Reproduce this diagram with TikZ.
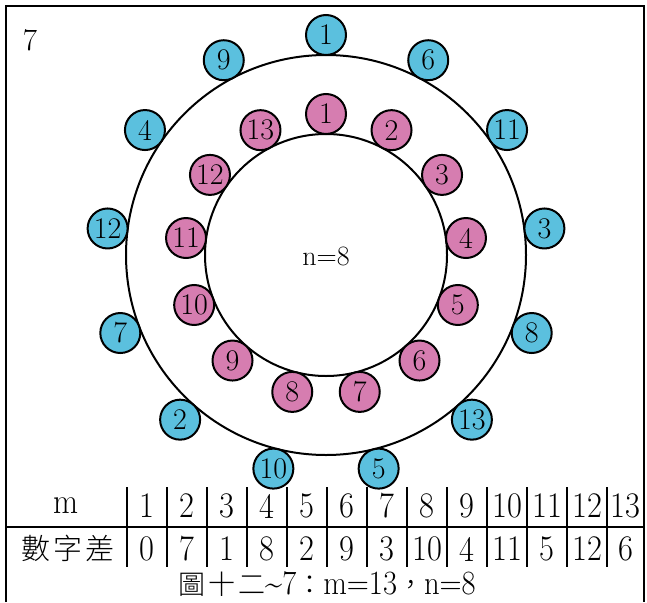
\documentclass[tikz,border=0pt]{standalone}
\usepackage{fontspec}
\IfFontExistsTF{Noto Sans CJK TC Light}
  {\newfontfamily\cjk{Noto Sans CJK TC Light}}
  {\newfontfamily\cjk{Noto Sans CJK TC}}
\definecolor{ballblue}{RGB}{91,192,222}
\definecolor{ballpink}{RGB}{214,125,176}
\newcommand{\nar}[1]{\scalebox{0.9}[1]{#1}}
\tikzset{
  frameline/.style={line width=2pt},
  ring/.style={draw, circle, line width=2pt, inner sep=0pt},
  ball/.style={draw, circle, line width=2pt, inner sep=0pt, minimum size=40pt,
    font=\fontsize{30}{30}\selectfont},
  blueball/.style={ball, fill=ballblue},
  pinkball/.style={ball, fill=ballpink},
  cell/.style={inner sep=0pt, anchor=center, font=\fontsize{36}{36}\selectfont},
  cjkcell/.style={inner sep=0pt, anchor=center, font=\fontsize{29}{29}\selectfont\cjk},
}
\begin{document}
\begin{tikzpicture}[x=1pt,y=-1pt]
\useasboundingbox (0,0) rectangle (647,602);
% frame
\coordinate (fbl) at (6,602);
\coordinate (ftl) at (6,6);
\coordinate (ftr) at (644,6);
\coordinate (fbr) at (644,602);
\draw[frameline] (fbl) -- (ftl) -- (ftr) -- (fbr);
\node[inner sep=0pt, font=\fontsize{31}{31}\selectfont] (seven) at (30,40) {7};
% rings
\coordinate (c) at (326,255);
\node[ring, minimum size=400pt] (outer) at (c) {};
\node[ring, minimum size=242pt] (inner) at (c) {};
\node[inner sep=0pt, font=\fontsize{28}{28}\selectfont] (nlabel) at (326,256) {n=8};
% balls
\foreach \k in {0,...,12}{
  \pgfmathsetmacro\ang{90-\k*360/13}
  \pgfmathtruncatemacro\pl{\k+1}
  \pgfmathtruncatemacro\bl{mod(5*\k,13)+1}
  \node[pinkball] (p\pl) at ({326+141*cos(\ang)},{255-141*sin(\ang)}) {\pl};
  \node[blueball] (b\bl) at ({326+220*cos(\ang)},{255-220*sin(\ang)}) {\bl};
}
% table
\coordinate (hl) at (6,527);
\coordinate (hr) at (644,527);
\draw[frameline] (hl) -- (hr);
\foreach \i in {0,...,12}{
  \coordinate (vt\i) at (127+40*\i,487);
  \coordinate (vb\i) at (127+40*\i,567);
  \draw[frameline] (vt\i) -- (vb\i);
}
\node[cell] (mhead) at (66.5,506) {\nar{m}};
\node[cjkcell] (diffhead) at (68,548) {數\hspace{3pt}字\hspace{3pt}差};
\foreach \v [count=\i from 0] in {0,7,1,8,2,9,3,10,4,11,5,12}{
  \pgfmathtruncatemacro\mm{\i+1}
  \node[cell] (m\mm) at (147+40*\i,506) {\nar{\mm}};
  \node[cell] (d\mm) at (147+40*\i,549) {\nar{\v}};
}
\node[cell] (m13) at (625.5,506) {\nar{13}};
\node[cell] (d13) at (625.5,549) {\nar{6}};
\node[inner sep=0pt, font=\fontsize{27}{27}\selectfont] (caption) at (327,584)
  {{\cjk 圖\hspace{3pt}十\hspace{3pt}二}\nar{\fontsize{34}{34}\selectfont\textasciitilde 7}{\cjk ：}\nar{\fontsize{34}{34}\selectfont m=13}{\cjk ，}\nar{\fontsize{34}{34}\selectfont n=8}};
\end{tikzpicture}
\end{document}
